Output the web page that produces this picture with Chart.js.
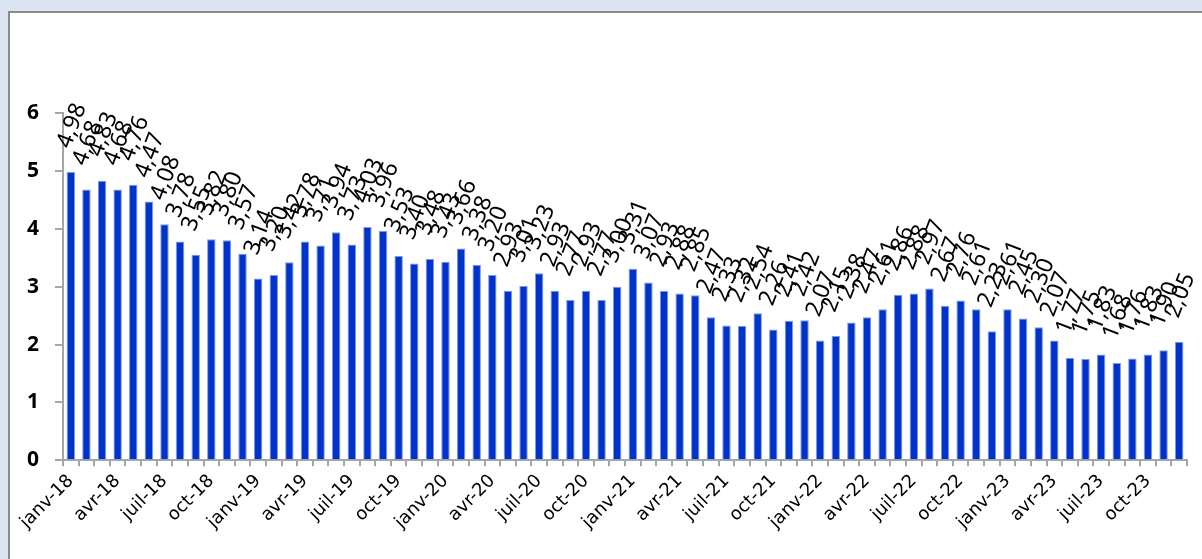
<!DOCTYPE html>
<html>
<head>
<meta charset="utf-8">
<script src="https://cdn.jsdelivr.net/npm/chart.js@4/dist/chart.umd.min.js"></script>
<style>
  html, body { margin: 0; padding: 0; }
  body { width: 1202px; height: 559px; background: #dbe5f1; overflow: hidden; position: relative; }
  #frame { position: absolute; left: 8px; top: 11px; width: 1300px; height: 700px;
           background: #fff; border-top: 2px solid #8a8a8a; border-left: 2px solid #8a8a8a; }
  #wrap { position: absolute; left: 0; top: 0; width: 1202px; height: 559px; }
</style>
</head>
<body>
<div id="frame"></div>
<div id="wrap"><canvas id="myChart" width="1202" height="559"></canvas></div>
<script>
var moisCourts = ['janv', 'févr', 'mars', 'avr', 'mai', 'juin', 'juil', 'août', 'sept', 'oct', 'nov', 'déc'];
var annees = ['18', '19', '20', '21', '22', '23'];

var mois = [];
for (var a = 0; a < annees.length; a++) {
    for (var m = 0; m < moisCourts.length; m++) {
        mois.push(moisCourts[m] + '-' + annees[a]);
    }
}

var valeurs = [
    4.98, 4.68, 4.83, 4.68, 4.76, 4.47, 4.08, 3.78, 3.55, 3.82, 3.80, 3.57,
    3.14, 3.20, 3.42, 3.78, 3.71, 3.94, 3.73, 4.03, 3.96, 3.53, 3.40, 3.48,
    3.43, 3.66, 3.38, 3.20, 2.93, 3.01, 3.23, 2.93, 2.77, 2.93, 2.77, 3.00,
    3.31, 3.07, 2.93, 2.88, 2.85, 2.47, 2.33, 2.32, 2.54, 2.26, 2.41, 2.42,
    2.07, 2.15, 2.38, 2.47, 2.61, 2.86, 2.88, 2.97, 2.67, 2.76, 2.61, 2.23,
    2.61, 2.45, 2.30, 2.07, 1.77, 1.75, 1.83, 1.68, 1.76, 1.83, 1.90, 2.05
];

var yTicks = [0, 1, 2, 3, 4, 5, 6];

// étiquettes de valeur tournées au-dessus des barres
var etiquettes = {
    id: 'etiquettes',
    afterDatasetsDraw: function (chart) {
        var ctx = chart.ctx;
        var meta = chart.getDatasetMeta(0);
        ctx.save();
        ctx.fillStyle = '#000';
        ctx.font = '23px "Noto Sans"';
        ctx.textAlign = 'left';
        ctx.textBaseline = 'middle';
        for (var i = 0; i < meta.data.length; i++) {
            var bar = meta.data[i];
            var txt = valeurs[i].toFixed(2).replace('.', ',');
            ctx.save();
            ctx.translate(bar.x - 7, bar.y - 25);
            ctx.rotate(-69 * Math.PI / 180);
            ctx.fillText(txt, 0, 0);
            ctx.restore();
        }
        ctx.restore();
    }
};

var ctx1 = document.getElementById('myChart');
var myChart = new Chart(ctx1, {
    type: 'bar',
    data: {
        labels: mois,
        datasets: [{
            data: valeurs,
            backgroundColor: '#0033cc',
            borderColor: '#8096e4',
            borderWidth: 1,
            barPercentage: 0.54,
            categoryPercentage: 1
        }]
    },
    options: {
        responsive: false,
        animation: false,
        layout: { padding: { left: 11, right: 15, top: 113, bottom: 22 } },
        plugins: {
            legend: { display: false },
            tooltip: { enabled: false }
        },
        scales: {
            x: {
                grid: {
                    offset: true,
                    drawOnChartArea: false,
                    drawTicks: true,
                    tickLength: 6,
                    color: '#a6a6a6',
                    lineWidth: 2
                },
                border: { color: '#a6a6a6', width: 2 },
                ticks: {
                    autoSkip: false,
                    maxRotation: 45,
                    minRotation: 45,
                    padding: 4,
                    color: '#000',
                    font: { family: 'DejaVu Sans', size: 18 },
                    callback: function (val, idx) {
                        return idx % 3 === 0 ? mois[idx] : '';
                    }
                }
            },
            y: {
                min: 0,
                max: 6,
                afterBuildTicks: function (axis) {
                    axis.ticks = yTicks.map(function (v) { return { value: v }; });
                },
                grid: {
                    drawOnChartArea: false,
                    drawTicks: true,
                    tickLength: 8,
                    color: '#a6a6a6',
                    lineWidth: 2
                },
                border: { color: '#a6a6a6', width: 2 },
                ticks: {
                    padding: 16,
                    color: '#000',
                    font: { family: 'Noto Sans', size: 21, weight: 'bold' }
                }
            }
        }
    },
    plugins: [etiquettes]
});
</script>
</body>
</html>
